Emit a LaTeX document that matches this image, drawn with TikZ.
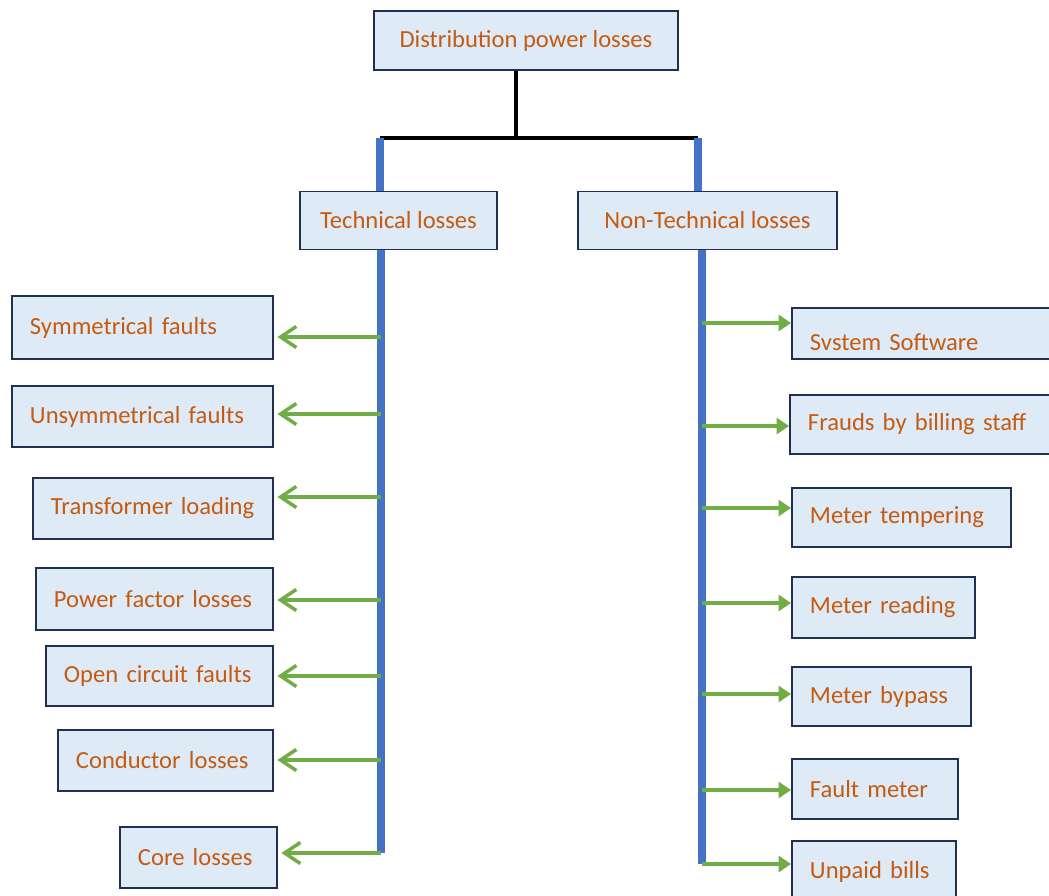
\documentclass[tikz,border=0pt]{standalone}
\usepackage{fontspec}
\setmainfont{Carlito}
\usetikzlibrary{arrows.meta}
\definecolor{boxfill}{HTML}{DEEBF7}
\definecolor{boxline}{HTML}{1F3050}
\definecolor{losstext}{HTML}{C55A11}
\definecolor{trunkblue}{HTML}{4472C4}
\definecolor{branchgreen}{HTML}{70AD47}
\begin{document}
\begin{tikzpicture}[x=0.02cm,y=-0.02cm]
\tikzstyle{box} = [rectangle,draw=boxline,line width=1.1pt,fill=boxfill,text=losstext,font=\fontsize{14}{17}\selectfont]
\tikzstyle{head} = [box,minimum height=1.16cm]
\tikzstyle{leaf} = [box,anchor=north west,align=left,inner xsep=0.36cm]
\tikzstyle{trunk} = [trunkblue,line width=4pt]
\tikzstyle{tie} = [black,line width=2.2pt]
\tikzstyle{lbranch} = [branchgreen,line width=2.2pt,-{Straight Barb[length=9pt,width=12pt,line width=2pt]},shorten >=2pt]
\tikzstyle{rbranch} = [branchgreen,line width=2.2pt,-{Triangle[length=7pt,width=9pt]}]

\useasboundingbox (0,0) rectangle (1049,896);

\node[head,minimum width=6.08cm,minimum height=1.18cm](root) at (526,40.5) {Distribution power losses};
\node[head,minimum width=3.94cm](tech) at (398.5,220.5) {Technical losses};
\node[head,minimum width=5.18cm](nontech) at (707.5,220.5) {Non-Technical losses};

\node[leaf,text width=4.5cm,minimum height=1.26cm](sym) at (11,295) {Symmetrical faults};
\node[leaf,text width=4.5cm,minimum height=1.22cm](unsym) at (11,385) {Unsymmetrical faults};
\node[leaf,text width=4.08cm,minimum height=1.22cm](trans) at (32,477) {Transformer loading};
\node[leaf,text width=4.02cm,minimum height=1.24cm](pf) at (35,567) {Power factor losses};
\node[leaf,text width=3.82cm,minimum height=1.2cm](open) at (45,645) {Open circuit faults};
\node[leaf,text width=3.58cm,minimum height=1.22cm](cond) at (57,729) {Conductor losses};
\node[leaf,text width=2.42cm,minimum height=1.22cm](core) at (119,826) {Core losses};

\node[leaf,text width=4.68cm,minimum height=1.02cm,text height=19pt](soft) at (791,307) {Svstem Software};
\node[leaf,text width=4.68cm,minimum height=1.18cm](fraud) at (789,394) {Frauds by billing staff};
\node[leaf,text width=3.66cm,minimum height=1.18cm](temper) at (791,487) {Meter tempering};
\node[leaf,text width=2.94cm,minimum height=1.22cm](reading) at (791,576) {Meter reading};
\node[leaf,text width=2.86cm,minimum height=1.18cm](bypass) at (791,666) {Meter bypass};
\node[leaf,text width=2.6cm,minimum height=1.2cm](faultm) at (791,758) {Fault meter};
\node[leaf,text width=2.56cm,minimum height=1.24cm](unpaid) at (791,840) {Unpaid bills};

\coordinate (split) at (516,138);
\coordinate (lbend) at (380,138);
\coordinate (rbend) at (698,138);
\draw[tie] (root.south -| split) -- (split);
\draw[tie] (lbend) -- (rbend);
\draw[trunk] (lbend) -- (lbend |- tech.north);
\draw[trunk] (rbend) -- (rbend |- nontech.north);

\coordinate (t1) at (381,337);
\coordinate (t2) at (381,414);
\coordinate (t3) at (381,497);
\coordinate (t4) at (381,600);
\coordinate (t5) at (381,676);
\coordinate (t6) at (381,760);
\coordinate (t7) at (381,853);
\draw[trunk] (tech.south -| t7) -- (t7);
\draw[lbranch] (t1) -- (t1 -| sym.east);
\draw[lbranch] (t2) -- (t2 -| unsym.east);
\draw[lbranch] (t3) -- (t3 -| trans.east);
\draw[lbranch] (t4) -- (t4 -| pf.east);
\draw[lbranch] (t5) -- (t5 -| open.east);
\draw[lbranch] (t6) -- (t6 -| cond.east);
\draw[lbranch] (t7) -- (t7 -| core.east);

\coordinate (n1) at (702,323);
\coordinate (n2) at (702,426);
\coordinate (n3) at (702,508);
\coordinate (n4) at (702,603);
\coordinate (n5) at (702,694);
\coordinate (n6) at (702,790);
\coordinate (n7) at (702,864);
\draw[trunk] (nontech.south -| n7) -- (n7);
\draw[rbranch] (n1) -- (n1 -| soft.west);
\draw[rbranch] (n2) -- (n2 -| fraud.west);
\draw[rbranch] (n3) -- (n3 -| temper.west);
\draw[rbranch] (n4) -- (n4 -| reading.west);
\draw[rbranch] (n5) -- (n5 -| bypass.west);
\draw[rbranch] (n6) -- (n6 -| faultm.west);
\draw[rbranch] (n7) -- (n7 -| unpaid.west);

\end{tikzpicture}
\end{document}
